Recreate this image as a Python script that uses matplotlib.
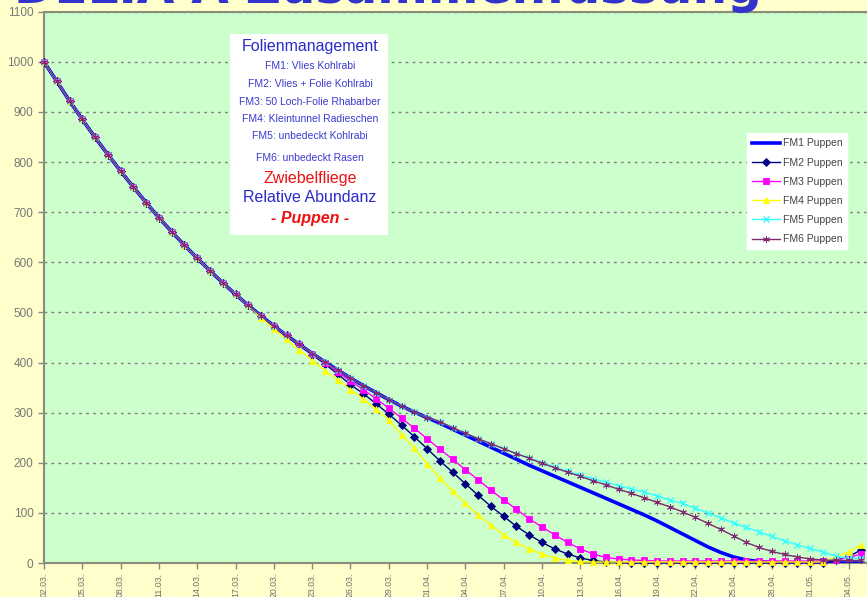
import matplotlib
matplotlib.use("Agg")
import matplotlib.pyplot as plt
from matplotlib.patches import Rectangle

# =============================
# Data (one value per day from 02.03.)
# =============================
days = list(range(65))

tick_pos = list(range(0, 65, 3))
tick_labels = ["02.03.", "05.03.", "08.03.", "11.03.", "14.03.", "17.03.", "20.03.",
               "23.03.", "26.03.", "29.03.", "01.04.", "04.04.", "07.04.", "10.04.",
               "13.04.", "16.04.", "19.04.", "22.04.", "25.04.", "28.04.", "01.05.",
               "04.05."]

fm1 = [1000, 961, 922, 885, 849, 815, 782, 750, 719, 689, 661, 634, 608, 583, 559, 536,
       514, 493, 473, 454, 436, 418, 401, 385, 369, 354, 340, 326, 313, 301, 290,
       279, 267, 255, 243, 231, 219, 207, 195, 184, 173, 162, 151, 140, 129, 118, 107,
       96, 84, 71, 58, 45, 32, 21, 12, 6, 3, 1, 0, 0, 0, 0, 0, 0, 0]

fm2 = [1000, 961, 922, 885, 849, 815, 782, 750, 719, 689, 661, 634, 608, 583, 559, 536,
       514, 493, 473, 454, 436, 416, 397, 377, 356, 338, 318, 297, 275, 252, 228,
       204, 181, 158, 135, 113, 93, 73, 56, 41, 28, 18, 10, 5, 2, 1,
       0, 0, 0, 0, 0, 0, 0, 0, 0, 0, 0, 0, 0, 0, 0, 0, 5, 13, 26]

fm3 = [1000, 961, 922, 885, 849, 815, 782, 750, 719, 689, 661, 634, 608, 583, 559, 536,
       514, 493, 473, 454, 436, 418, 400, 381, 363, 346, 328, 309, 289, 269, 248,
       227, 207, 186, 166, 145, 126, 107, 88, 72, 56, 41, 28, 18, 11, 8, 6, 5,
       4, 4, 4, 4, 4, 4, 4, 4, 4, 4, 4, 4, 4, 4, 6, 11, 18]

fm4 = [1000, 961, 922, 885, 849, 815, 782, 750, 719, 689, 661, 634, 608, 583, 559, 536,
       514, 489, 467, 446, 425, 404, 384, 365, 346, 327, 307, 285, 256, 229, 198,
       169, 143, 119, 96, 75, 56, 41, 28, 18, 10, 5, 3,
       2, 2, 2, 2, 2, 2, 2, 2, 2, 2, 2, 2, 2, 2, 2, 2, 2, 2, 2, 12, 22, 36]

fm5 = [1000, 961, 922, 885, 849, 815, 782, 750, 719, 689, 661, 634, 608, 583, 559, 536,
       514, 493, 473, 454, 436, 418, 401, 385, 369, 354, 340, 326, 313, 301, 290,
       282, 270, 259, 248, 238, 228, 218, 209, 200, 191, 183, 175, 168, 161, 154, 148,
       141, 134, 126, 119, 109, 100, 90, 80, 71, 62, 53, 44, 36, 29, 22, 14, 9, 10]

fm6 = [1000, 961, 922, 885, 849, 815, 782, 750, 719, 689, 661, 634, 608, 583, 559, 536,
       514, 493, 473, 454, 436, 418, 401, 385, 369, 354, 340, 326, 313, 301, 290,
       282, 270, 259, 248, 238, 228, 218, 209, 199, 190, 181, 173, 164, 156, 147, 139,
       130, 121, 112, 102, 91, 79, 67, 54, 41, 31, 23, 17, 12, 8, 6, 5, 5, 5]

series = [
    ("FM1 Puppen", fm1, "#0000ff", None, 2.6, 0),
    ("FM2 Puppen", fm2, "#000080", "D", 1.0, 3.6),
    ("FM3 Puppen", fm3, "#ff00ff", "s", 1.0, 4.2),
    ("FM4 Puppen", fm4, "#ffff00", "^", 1.0, 4.8),
    ("FM5 Puppen", fm5, "#33ffff", "x", 1.0, 4.0),
    ("FM6 Puppen", fm6, "#802a70", (6, 2, 0), 1.0, 5.0),
]

info_lines = [
    ("Folienmanagement", 47, 11.5, "#2a2acc", "normal", "normal"),
    ("FM1: Vlies Kohlrabi", 66, 7.5, "#3a3ad0", "normal", "normal"),
    ("FM2: Vlies + Folie Kohlrabi", 84, 7.5, "#3a3ad0", "normal", "normal"),
    ("FM3: 50 Loch-Folie Rhabarber", 102, 7.5, "#3a3ad0", "normal", "normal"),
    ("FM4: Kleintunnel Radieschen", 119, 7.5, "#3a3ad0", "normal", "normal"),
    ("FM5: unbedeckt Kohlrabi", 136, 7.5, "#3a3ad0", "normal", "normal"),
    ("FM6: unbedeckt Rasen", 158, 7.5, "#3a3ad0", "normal", "normal"),
    ("Zwiebelfliege", 178, 11.5, "#ee1111", "normal", "normal"),
    ("Relative Abundanz", 198, 11.5, "#2a2acc", "normal", "normal"),
    ("- Puppen -", 219, 11.5, "#ee1111", "bold", "italic"),
]

# =============================
# Figure
# =============================
W, H = 867, 597
plt.rcParams["font.family"] = ["Liberation Sans", "DejaVu Sans"]

fig = plt.figure(figsize=(W / 100, H / 100), dpi=100, facecolor="#ffffcc")


def fx(x):
    return x / W


def fy(y):
    return 1 - y / H


ax = fig.add_axes([fx(44), fy(563), fx(867) - fx(44), fy(11.7) - fy(563)])
ax.set_facecolor("#ccffcc")

for label, vals, color, marker, lw, ms in series:
    ax.plot(days, vals, color=color, lw=lw, marker=marker, markersize=ms,
            markeredgewidth=1.0 if marker == "x" else 0.6, label=label,
            clip_on=(label == "FM1 Puppen"), zorder=4)

ax.set_xlim(0, (867 - 44) / 12.77)
ax.set_ylim(0, 1100)
ax.set_yticks(range(0, 1101, 100))
ax.set_xticks(tick_pos)
ax.set_xticklabels(tick_labels, rotation=90, fontsize=6.3, color="#707070")
ax.tick_params(axis="y", labelsize=8.5, labelcolor="#777777", color="#888888",
               length=4, width=1)
ax.tick_params(axis="x", color="#888888", length=4, width=1, pad=3)
ax.yaxis.grid(True, linestyle=(0, (2, 3)), color="#808080", lw=1)
ax.set_axisbelow(True)
for side in ("left", "bottom", "top"):
    ax.spines[side].set_color("#8c8c7a")
    ax.spines[side].set_linewidth(1.5)
ax.spines["right"].set_visible(False)

leg = ax.legend(loc="upper left", bbox_to_anchor=((742 - 44) / 823, (563 - 128) / 551.3),
                fontsize=7.5, frameon=True, fancybox=False, facecolor="white",
                edgecolor="white", framealpha=1, labelspacing=0.88,
                handlelength=2.6, handletextpad=0.3, borderpad=0.5)
for t in leg.get_texts():
    t.set_color("#444444")

# info box
ax.add_patch(Rectangle((fx(230), fy(235)), fx(388) - fx(230), fy(34) - fy(235),
                       transform=fig.transFigure, facecolor="white",
                       edgecolor="none", zorder=5))
for text, y, size, color, weight, style in info_lines:
    fig.text(fx(310), fy(y), text, ha="center", va="center", fontsize=size,
             color=color, fontweight=weight, fontstyle=style, zorder=6)

# title, cut at the top like in the slide
fig.text(fx(14), fy(3), "DELIA A Zusammenfassung", ha="left", va="baseline",
         fontsize=35, fontweight="bold", color="#3333cc", family="DejaVu Sans")

fig.savefig("out.png", dpi=100, facecolor=fig.get_facecolor())
